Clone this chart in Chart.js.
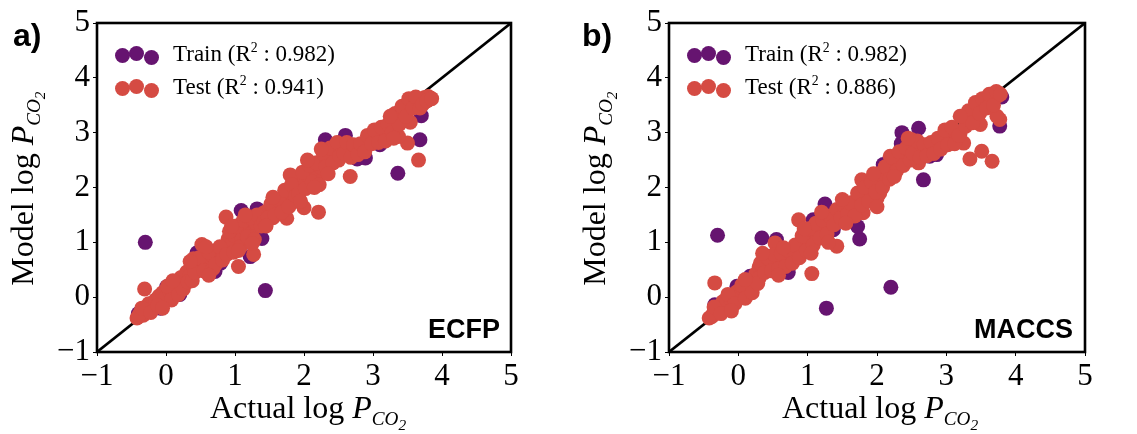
<!DOCTYPE html>
<html>
<head>
<meta charset="utf-8">
<script src="https://cdn.jsdelivr.net/npm/chart.js@4"></script>
<style>
  body { margin: 0; background: #fff; width: 1137px; height: 434px; overflow: hidden; position: relative; font-family: "Liberation Serif", serif; }
  .panel { position: absolute; top: 0; height: 434px; }
  .lbl { position: absolute; font-family: "Liberation Sans", Arial, sans-serif; font-weight: bold; color: #000; line-height: 1; }
  .ytitle { position: absolute; font-size: 32px; transform: rotate(-90deg); transform-origin: center; white-space: nowrap; }
  .xtitle { position: absolute; font-size: 32px; white-space: nowrap; }
  .leg { position: absolute; font-size: 23px; white-space: nowrap; }
  .dot { position: absolute; width: 15px; height: 15px; border-radius: 50%; }
  sub { font-size: 0.6em; font-style: italic; }
  sup { font-size: 0.6em; }
</style>
</head>
<body>
<div class="panel" style="left:0;width:570px"><canvas id="chartA" width="570" height="434"></canvas></div>
<div class="panel" style="left:570px;width:567px"><canvas id="chartB" width="567" height="434"></canvas></div>

<div class="lbl" style="left:13px;top:19px;font-size:32px">a)</div>
<div class="lbl" style="left:582px;top:19px;font-size:32px">b)</div>
<div class="lbl" style="right:637px;top:316px;font-size:27px">ECFP</div>
<div class="lbl" style="right:64px;top:316px;font-size:27px">MACCS</div>

<div class="ytitle" style="left:-83px;top:166px;width:220px;text-align:center">Model log <i>P</i><sub>CO<sub style="font-size:0.8em">2</sub></sub></div>
<div class="ytitle" style="left:489px;top:166px;width:220px;text-align:center">Model log <i>P</i><sub>CO<sub style="font-size:0.8em">2</sub></sub></div>
<div class="xtitle" style="left:210px;top:389px">Actual log <i>P</i><sub>CO<sub style="font-size:0.8em">2</sub></sub></div>
<div class="xtitle" style="left:782px;top:389px">Actual log <i>P</i><sub>CO<sub style="font-size:0.8em">2</sub></sub></div>

<div id="legA"></div>
<div id="legB"></div>

<script>
const trainColor = '#661470'
const testColor = '#d54b43'
const tickValues = [-1, 0, 1, 2, 3, 4, 5]
const diagonal = [[-1, -1], [5, 5]]
const legendA = ['Train (R<sup>2</sup> : 0.982)', 'Test (R<sup>2</sup> : 0.941)']
const legendB = ['Train (R<sup>2</sup> : 0.982)', 'Test (R<sup>2</sup> : 0.886)']

// panel a: ECFP
const trainA = [
  [-0.30, 1.00], [1.44, 0.12], [1.09, 1.58], [1.32, 1.61], [1.39, 1.07], [1.22, 0.74],
  [2.31, 2.87], [2.36, 2.80], [2.60, 2.95], [3.36, 2.26], [3.68, 2.87], [3.70, 3.31],
  [2.77, 2.52], [2.89, 2.54], [0.71, 0.47], [-0.08, -0.20], [0.01, 0.19], [3.10, 2.78],
  [0.45, 0.81], [0.79, 0.62], [-0.40, -0.30], [0.20, 0.05], [1.60, 1.55], [2.10, 2.20],
  [3.50, 3.45], [3.80, 3.60], [1.00, 0.95], [0.60, 0.70], [2.95, 2.85], [1.90, 2.00]
]
const testA = [
  [-0.42, -0.38], [-0.38, -0.30], [-0.33, -0.33], [-0.28, -0.22], [-0.25, -0.12], [-0.20, -0.15],
  [-0.15, -0.05], [-0.10, 0.02], [-0.05, 0.08], [0.00, 0.00], [0.05, 0.12], [0.10, 0.05],
  [0.15, 0.16], [0.20, 0.22], [0.22, 0.36], [0.27, 0.30], [0.30, 0.46], [0.35, 0.40],
  [0.40, 0.56], [0.45, 0.62], [0.50, 0.50], [0.55, 0.70], [0.60, 0.64], [0.65, 0.58],
  [0.70, 0.72], [0.75, 0.76], [0.80, 0.82], [0.85, 0.92], [0.90, 1.06], [0.95, 0.96],
  [1.00, 1.12], [1.05, 1.22], [1.10, 1.06], [1.15, 1.26], [1.20, 1.32], [1.25, 1.20],
  [1.30, 1.36], [1.35, 1.46], [1.40, 1.52], [1.45, 1.56], [1.50, 1.60], [1.55, 1.62],
  [1.60, 1.66], [1.65, 1.70], [1.70, 1.76], [1.75, 1.86], [1.80, 1.92], [1.85, 1.74],
  [1.90, 2.02], [1.95, 2.12], [2.00, 2.16], [2.05, 2.22], [2.10, 2.28], [2.15, 2.32],
  [2.20, 2.20], [2.25, 2.36], [2.30, 2.50], [2.35, 2.56], [2.40, 2.62], [2.45, 2.66],
  [2.50, 2.72], [2.55, 2.78], [2.60, 2.70], [2.65, 2.62], [2.70, 2.66], [2.75, 2.72],
  [2.80, 2.70], [2.90, 2.76], [2.95, 2.88], [3.00, 2.96], [3.05, 2.90], [3.10, 3.00],
  [3.15, 2.96], [3.20, 3.02], [3.25, 3.06], [3.30, 3.22], [3.35, 3.26], [3.40, 3.32],
  [3.45, 3.42], [3.50, 3.52], [3.55, 3.56], [3.60, 3.60], [3.65, 3.52], [3.70, 3.60],
  [3.75, 3.64], [3.80, 3.66], [1.80, 2.23], [0.87, 1.46], [1.05, 0.56], [1.27, 0.78],
  [2.21, 1.55], [2.67, 2.20], [3.66, 2.50], [3.50, 2.81], [3.54, 3.19], [-0.31, 0.15],
  [-0.40, -0.35], [0.52, 0.96], [1.75, 1.44], [2.00, 1.63], [3.37, 2.93], [3.73, 3.54],
  [3.83, 3.63], [3.40, 3.30], [2.50, 2.50], [1.55, 1.45], [0.40, 0.70], [1.12, 1.38],
  [-0.35, -0.20], [-0.22, -0.28], [-0.12, -0.15], [0.02, 0.20], [0.08, -0.05], [0.18, 0.05],
  [0.25, 0.15], [0.32, 0.28], [0.38, 0.30], [0.42, 0.45], [0.48, 0.72], [0.55, 0.48],
  [0.62, 0.82], [0.68, 0.52], [0.72, 0.60], [0.78, 0.92], [0.82, 0.68], [0.88, 0.78],
  [0.92, 1.20], [0.98, 0.82], [1.02, 1.30], [1.08, 0.92], [1.12, 1.40], [1.18, 1.10],
  [1.22, 1.45], [1.28, 1.05], [1.32, 1.50], [1.38, 1.30], [1.42, 1.38], [1.48, 1.45],
  [1.52, 1.70], [1.58, 1.50], [1.62, 1.78], [1.68, 1.55], [1.72, 1.95], [1.78, 1.65],
  [1.82, 2.05], [1.88, 1.85], [1.92, 1.88], [1.98, 2.28], [2.02, 1.98], [2.08, 2.40],
  [2.12, 2.10], [2.18, 2.45], [2.22, 2.05], [2.28, 2.62], [2.32, 2.38], [2.38, 2.72],
  [2.42, 2.45], [2.48, 2.82], [2.52, 2.58], [2.58, 2.62], [2.62, 2.82], [2.68, 2.55],
  [2.72, 2.78], [2.78, 2.60], [2.82, 2.80], [2.88, 2.65], [2.92, 2.95], [2.98, 2.80],
  [3.02, 3.05], [3.08, 2.82], [3.12, 3.10], [3.18, 2.85], [3.22, 3.15], [3.28, 3.00],
  [3.32, 3.35], [3.38, 3.15], [3.42, 3.48], [3.48, 3.30], [3.52, 3.62], [3.58, 3.45],
  [3.62, 3.65], [3.68, 3.45], [3.72, 3.52], [3.78, 3.58], [3.85, 3.62],
  [0.35, 0.65], [0.58, 0.92], [0.62, 0.40], [0.95, 1.30], [1.05, 0.85], [1.15, 1.50],
  [1.25, 0.98], [1.45, 1.30], [1.55, 1.82], [1.95, 1.75], [2.05, 2.50], [2.15, 2.00],
  [2.25, 2.70], [2.35, 2.25], [3.25, 3.30], [3.30, 2.90], [0.10, 0.30], [-0.05, -0.20]
]

// panel b: MACCS
const trainB = [
  [-0.30, 1.13], [1.27, -0.20], [2.20, 0.18], [1.25, 1.70], [1.75, 1.06], [1.72, 1.29],
  [0.34, 1.08], [0.55, 1.05], [2.67, 2.14], [2.36, 3.00], [2.60, 3.08], [2.35, 2.80],
  [3.77, 3.12], [1.08, 1.41], [-0.34, -0.14], [-0.02, 0.20], [2.76, 2.57], [2.86, 2.60],
  [3.10, 2.81], [3.05, 3.00], [1.37, 1.23], [0.72, 0.45], [2.09, 2.42], [0.17, 0.38],
  [0.40, 0.75], [1.60, 1.55], [3.50, 3.45], [0.95, 0.90], [2.00, 2.05], [3.80, 3.65]
]
const testB = [
  [-0.42, -0.38], [-0.36, -0.30], [-0.30, -0.26], [-0.27, -0.16], [-0.22, -0.08], [-0.17, -0.10],
  [-0.12, -0.02], [-0.07, 0.04], [-0.02, 0.10], [0.03, 0.02], [0.08, 0.12], [0.13, 0.08],
  [0.18, 0.18], [0.22, 0.30], [0.25, 0.42], [0.30, 0.55], [0.35, 0.50], [0.40, 0.60],
  [0.45, 0.56], [0.50, 0.66], [0.55, 0.62], [0.60, 0.68], [0.65, 0.60], [0.70, 0.70],
  [0.75, 0.76], [0.80, 0.80], [0.85, 0.88], [0.90, 1.00], [0.95, 0.96], [1.00, 1.08],
  [1.05, 1.16], [1.10, 1.04], [1.15, 1.22], [1.20, 1.28], [1.25, 1.18], [1.30, 1.34],
  [1.35, 1.44], [1.40, 1.50], [1.45, 1.56], [1.50, 1.58], [1.55, 1.60], [1.60, 1.64],
  [1.65, 1.58], [1.70, 1.72], [1.75, 1.80], [1.80, 1.86], [1.85, 1.78], [1.90, 1.96],
  [1.95, 2.06], [2.00, 1.80], [2.05, 2.16], [2.10, 2.22], [2.15, 2.30], [2.20, 2.42],
  [2.25, 2.52], [2.30, 2.56], [2.35, 2.48], [2.40, 2.60], [2.45, 2.66], [2.50, 2.72],
  [2.55, 2.76], [2.60, 2.66], [2.65, 2.62], [2.70, 2.66], [2.75, 2.70], [2.80, 2.74],
  [2.90, 2.78], [2.95, 2.86], [3.00, 2.98], [3.05, 2.92], [3.10, 3.02], [3.15, 2.90],
  [3.20, 3.00], [3.30, 3.26], [3.35, 3.20], [3.40, 3.36], [3.45, 3.44], [3.50, 3.50],
  [3.55, 3.56], [3.60, 3.62], [3.65, 3.58], [3.70, 3.66], [3.75, 3.72], [0.87, 1.41],
  [1.06, 0.43], [1.42, 0.93], [1.78, 2.14], [0.53, 0.99], [3.34, 2.52], [3.51, 2.66],
  [3.66, 2.48], [3.77, 3.24], [3.73, 3.30], [3.49, 3.15], [3.25, 2.81], [2.60, 2.45],
  [2.50, 2.87], [-0.34, 0.26], [-0.38, -0.35], [3.68, 3.60], [3.75, 3.68], [3.25, 3.30],
  [1.80, 1.54], [2.04, 1.90], [2.19, 2.57], [2.12, 2.26], [1.10, 1.30], [0.30, 0.35],
  [-0.35, -0.18], [-0.25, -0.30], [-0.15, 0.05], [-0.05, -0.12], [0.05, 0.22], [0.10, -0.02],
  [0.20, 0.08], [0.28, 0.25], [0.32, 0.62], [0.38, 0.45], [0.42, 0.72], [0.48, 0.48],
  [0.52, 0.78], [0.58, 0.52], [0.62, 0.80], [0.68, 0.56], [0.72, 0.85], [0.78, 0.62],
  [0.82, 0.95], [0.88, 0.72], [0.92, 1.12], [0.98, 0.85], [1.02, 1.25], [1.08, 0.95],
  [1.12, 1.35], [1.18, 1.08], [1.22, 1.40], [1.28, 1.15], [1.32, 1.48], [1.38, 1.32],
  [1.42, 1.60], [1.48, 1.45], [1.52, 1.68], [1.58, 1.52], [1.62, 1.72], [1.68, 1.48],
  [1.72, 1.90], [1.78, 1.68], [1.82, 2.00], [1.88, 1.75], [1.92, 2.10], [1.98, 1.92],
  [2.02, 2.25], [2.08, 2.00], [2.12, 2.38], [2.18, 2.15], [2.22, 2.55], [2.28, 2.30],
  [2.32, 2.65], [2.38, 2.40], [2.42, 2.72], [2.48, 2.50], [2.52, 2.62], [2.58, 2.85],
  [2.62, 2.55], [2.68, 2.78], [2.72, 2.58], [2.78, 2.82], [2.82, 2.62], [2.88, 2.90],
  [2.92, 2.70], [2.98, 3.05], [3.02, 2.78], [3.08, 3.10], [3.12, 2.80], [3.18, 2.95],
  [3.28, 3.12], [3.32, 3.40], [3.38, 3.18], [3.42, 3.55], [3.48, 3.35], [3.52, 3.62],
  [3.58, 3.45], [3.62, 3.70], [3.68, 3.50], [3.72, 3.75], [3.78, 3.70],
  [0.35, 0.80], [0.58, 0.40], [0.65, 0.90], [0.95, 1.25], [1.05, 0.80], [1.20, 1.55],
  [1.30, 1.00], [1.50, 1.78], [1.55, 1.35], [1.95, 2.25], [2.00, 1.65], [2.25, 2.20],
  [2.45, 2.90], [3.20, 3.30], [0.10, 0.32], [-0.10, -0.25]
]

const toPts = arr => arr.map(p => ({ x: p[0], y: p[1] }))

const framePlugin = {
  id: 'frame',
  afterDatasetsDraw(chart) {
    const a = chart.chartArea
    const c = chart.ctx
    c.save()
    c.strokeStyle = '#000'
    c.lineWidth = 2.6
    c.strokeRect(a.left, a.top, a.right - a.left, a.bottom - a.top)
    c.restore()
  }
}

function makeChart(id, train, test, yWidth, padRight) {
  const axisFont = { family: '"Liberation Serif", serif', size: 31 }
  const grid = { display: true, drawOnChartArea: false, drawTicks: true, tickLength: 4, color: '#000', lineWidth: 1 }
  return new Chart(document.getElementById(id).getContext('2d'), {
    type: 'scatter',
    data: {
      datasets: [
        { data: toPts(test), backgroundColor: testColor, borderWidth: 0, pointRadius: 7.5, pointHoverRadius: 7.5, order: 0 },
        { data: toPts(train), backgroundColor: trainColor, borderWidth: 0, pointRadius: 7.5, pointHoverRadius: 7.5, order: 1 },
        { type: 'line', data: toPts(diagonal), borderColor: '#000', borderWidth: 2.6, pointRadius: 0, fill: false, order: 2 }
      ]
    },
    options: {
      responsive: false,
      animation: false,
      layout: { padding: { top: 23, right: padRight, left: 0, bottom: 0 } },
      plugins: { legend: { display: false }, tooltip: { enabled: false } },
      scales: {
        x: {
          type: 'linear', min: -1, max: 5,
          afterBuildTicks: s => { s.ticks = tickValues.map(v => ({ value: v })) },
          afterFit: s => { s.height = 82 },
          ticks: { color: '#000', font: axisFont, padding: 2, maxRotation: 0, callback: v => String(v).replace('-', '\u2212') },
          grid: grid,
          border: { display: false }
        },
        y: {
          type: 'linear', min: -1, max: 5,
          afterBuildTicks: s => { s.ticks = tickValues.map(v => ({ value: v })) },
          afterFit: s => { s.width = yWidth },
          ticks: { color: '#000', font: axisFont, padding: 3, callback: v => String(v).replace('-', '\u2212') },
          grid: grid,
          border: { display: false }
        }
      }
    },
    plugins: [framePlugin]
  })
}

makeChart('chartA', trainA, testA, 97, 59)
makeChart('chartB', trainB, testB, 99, 52)

function makeLegend(id, left, texts) {
  const el = document.getElementById(id)
  const colors = [trainColor, testColor]
  const tops = [55, 88]
  const offs = [[0, 0], [14, -2], [29, 2]]
  let html = ''
  texts.forEach((t, i) => {
    offs.forEach(o => {
      html += '<div class="dot" style="background:' + colors[i] + ';left:' + (left + o[0]) + 'px;top:' + (tops[i] - 7 + o[1]) + 'px"></div>'
    })
    html += '<div class="leg" style="left:' + (left + 58) + 'px;top:' + (tops[i] - 15) + 'px">' + t + '</div>'
  })
  el.innerHTML = html
}
makeLegend('legA', 115, legendA)
makeLegend('legB', 687, legendB)
</script>
</body>
</html>
